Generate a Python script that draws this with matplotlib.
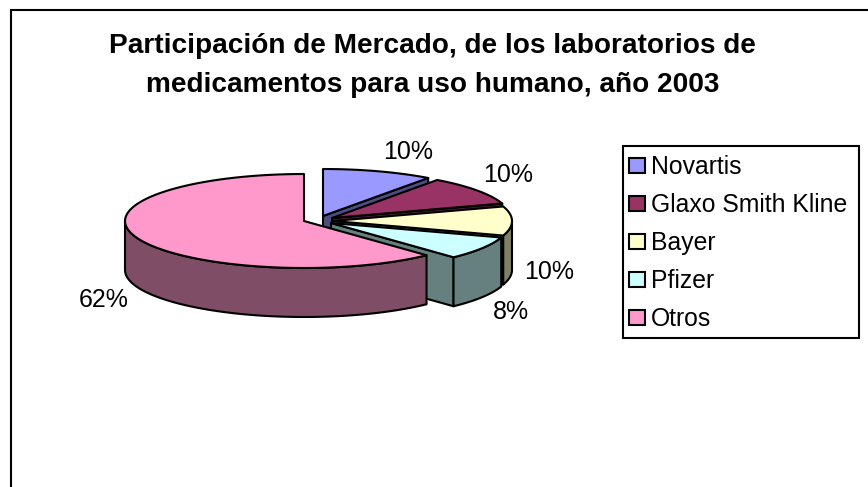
import numpy as np
import matplotlib
matplotlib.use('Agg')
import matplotlib.pyplot as plt
from matplotlib.patches import Polygon, Rectangle

plt.rcParams['font.family'] = ['Liberation Sans', 'DejaVu Sans']

title_lines = ['Participación de Mercado, de los laboratorios de',
               'medicamentos para uso humano, año 2003']
labels = ['Novartis', 'Glaxo Smith Kline', 'Bayer', 'Pfizer', 'Otros']
values = [10, 10, 10, 8, 62]
pct_labels = ['10%', '10%', '10%', '8%', '62%']
colors = ['#9999FF', '#993366', '#FFFFCC', '#CCFFFF', '#FF99CC']
sides = ['#4D4D80', '#4D1A33', '#808066', '#668080', '#804D66']

# pie geometry in pixels
cx, cy = 304, 221
rx, ry = 179, 47
depth = 49
offsets = [(19, -5), (28, -3), (29, 0), (27, 2), (0, 0)]
pct_pos = [(408, 152), (508, 175), (549, 272), (511, 312), (103.5, 300)]

fig = plt.figure(figsize=(8.68, 4.87), dpi=100)
ax = fig.add_axes([0, 0, 1, 1])
ax.set_xlim(0, 868)
ax.set_ylim(487, 0)
ax.axis('off')

# chart frame runs off the right and bottom of the picture
ax.add_patch(Rectangle((11, 10), 900, 520, fc='white', ec='black', lw=1.5))

ax.text(432.5, 53, title_lines[0], ha='center', va='baseline', fontsize=20.2, fontweight='bold')
ax.text(432.5, 92, title_lines[1], ha='center', va='baseline', fontsize=20.2, fontweight='bold')


def rim(a0, a1, dx, dy):
    t = np.radians(np.linspace(a0, a1, 80))
    return np.column_stack([cx + dx + rx * np.sin(t), cy + dy - ry * np.cos(t)])


lw = 1.5
start = 0
for i, v in enumerate(values):
    a0 = start
    a1 = start + v * 3.6
    start = a1
    dx, dy = offsets[i]
    tip = np.array([cx + dx, cy + dy])
    edge = rim(a0, a1, dx, dy)
    down = np.array([0, depth])
    # cut face on the closing side of the slice
    if a1 < 180:
        face = np.array([tip, edge[-1], edge[-1] + down, tip + down])
        ax.add_patch(Polygon(face, fc=sides[i], ec='black', lw=lw, joinstyle='round'))
    # outer wall, only the front half shows
    if a1 > 90:
        vis = rim(max(a0, 90), min(a1, 270), dx, dy)
        wall = np.vstack([vis, (vis + down)[::-1]])
        ax.add_patch(Polygon(wall, fc=sides[i], ec='black', lw=lw, joinstyle='round'))
    top = np.vstack([tip, edge])
    ax.add_patch(Polygon(top, fc=colors[i], ec='black', lw=lw, joinstyle='round'))

for s, (x, y) in zip(pct_labels, pct_pos):
    ax.text(x, y, s, ha='center', va='center', fontsize=18)

# legend box
ax.add_patch(Rectangle((623, 146), 236, 192, fc='white', ec='black', lw=1.5))
for i, name in enumerate(labels):
    y = 166 + i * 38
    ax.add_patch(Rectangle((629, y - 8), 16, 15, fc=colors[i], ec='black', lw=1.5))
    ax.text(651, y + 1, name, ha='left', va='center', fontsize=17.8)

fig.savefig('out.png', dpi=100)
